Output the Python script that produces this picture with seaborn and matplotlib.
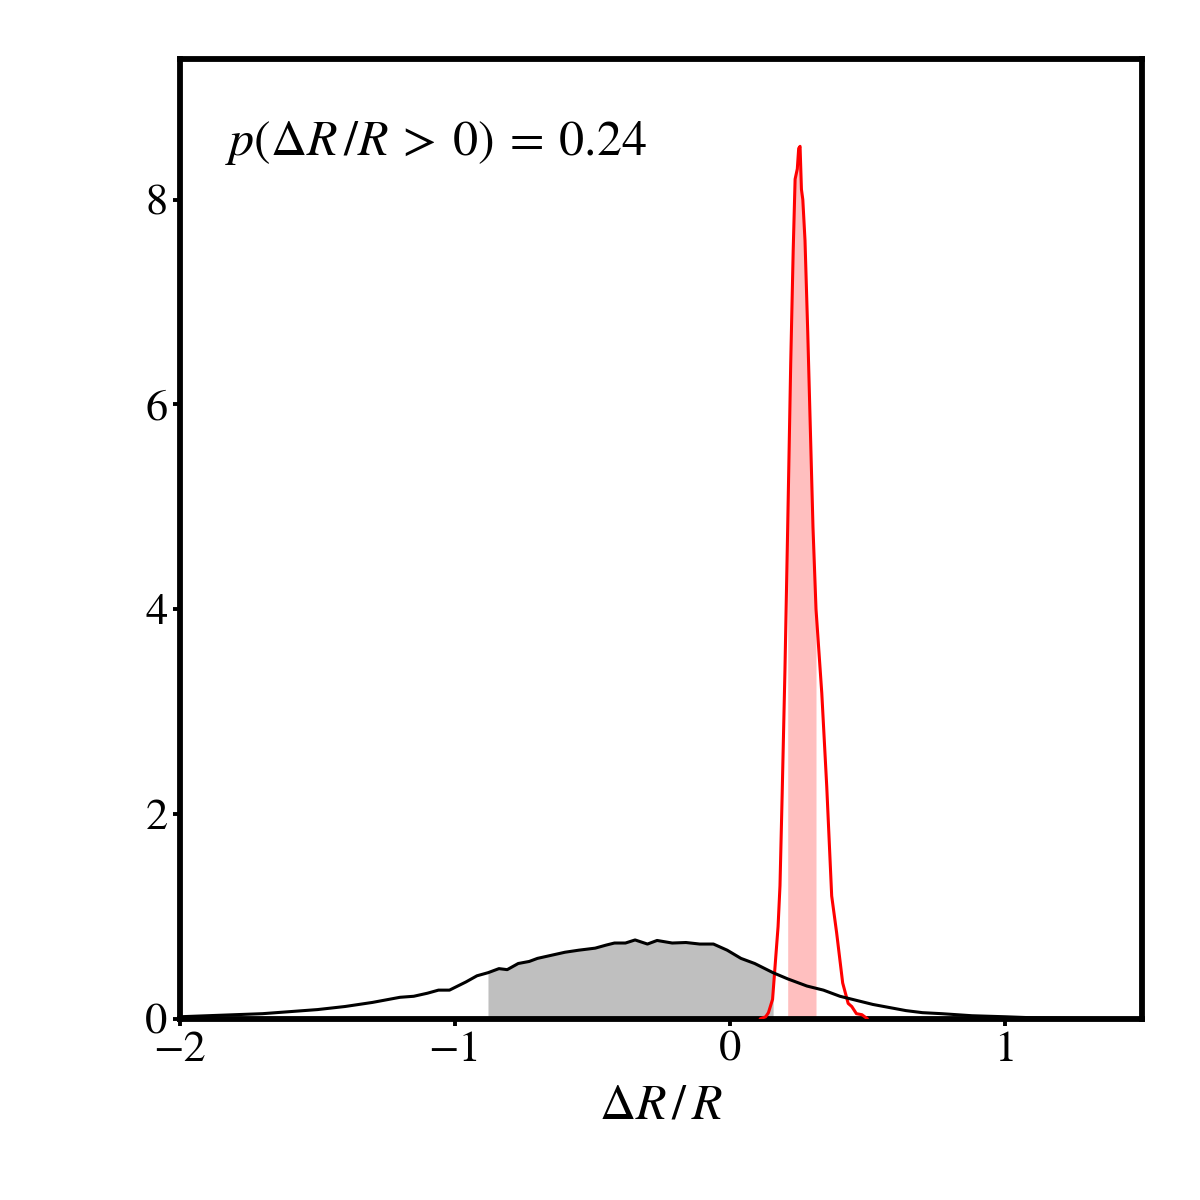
import numpy as np
import pandas as pd
import matplotlib
matplotlib.use("Agg")
import matplotlib.pyplot as plt
import seaborn as sns

# Broad (black) distribution of dR/R
black_x = [-2.00, -1.90, -1.80, -1.70, -1.60, -1.50, -1.40, -1.30, -1.20, -1.15,
           -1.10, -1.06, -1.02, -0.96, -0.92, -0.88, -0.84, -0.81, -0.77, -0.73,
           -0.70, -0.65, -0.60, -0.55, -0.49, -0.45, -0.42, -0.38, -0.345, -0.30,
           -0.265, -0.21, -0.16, -0.11, -0.06, -0.01, 0.04, 0.09, 0.157, 0.21,
           0.28, 0.34, 0.40, 0.46, 0.52, 0.58, 0.64, 0.70, 0.77, 0.88,
           1.00, 1.10, 1.25, 1.50]
black_y = [0.02, 0.03, 0.04, 0.05, 0.07, 0.09, 0.12, 0.16, 0.21, 0.22,
           0.25, 0.28, 0.28, 0.36, 0.42, 0.45, 0.49, 0.48, 0.54, 0.56,
           0.59, 0.62, 0.65, 0.67, 0.69, 0.72, 0.74, 0.74, 0.77, 0.73,
           0.765, 0.74, 0.745, 0.73, 0.73, 0.67, 0.59, 0.54, 0.45, 0.39,
           0.32, 0.28, 0.22, 0.18, 0.14, 0.11, 0.08, 0.06, 0.05, 0.03,
           0.02, 0.01, 0.005, 0.0]

# Narrow (red) distribution
red_x = [0.11, 0.13, 0.14, 0.155, 0.164, 0.175, 0.182, 0.19, 0.20, 0.21,
         0.221, 0.23, 0.237, 0.245, 0.250, 0.255, 0.26, 0.265, 0.273, 0.283,
         0.295, 0.302, 0.313, 0.324, 0.334, 0.352, 0.37, 0.388, 0.41, 0.43,
         0.443, 0.46, 0.48, 0.50]
red_y = [0.0, 0.02, 0.06, 0.19, 0.51, 0.9, 1.3, 2.2, 3.4, 4.8,
         6.4, 7.5, 8.2, 8.3, 8.5, 8.52, 8.1, 8.0, 7.6, 6.7,
         5.5, 4.8, 4.0, 3.57, 3.18, 2.27, 1.2, 0.84, 0.35, 0.15,
         0.12, 0.05, 0.04, 0.0]

black_band = (-0.88, 0.157)
red_band = (0.21, 0.313)

x_ticks = [-2, -1, 0, 1]
y_ticks = [0, 2, 4, 6, 8]
annotation = r"$p(\Delta R\,/R \:>\: 0) \:=\: 0.24$"
x_label = r"$\Delta R\,/\,R$"

sns.set_theme(style="ticks")
plt.rcParams["font.family"] = ["STIXGeneral", "DejaVu Sans"]
plt.rcParams["mathtext.fontset"] = "stix"
plt.rcParams["axes.unicode_minus"] = True
plt.rcParams["text.color"] = "black"
plt.rcParams["axes.labelcolor"] = "black"

fig, ax = plt.subplots(figsize=(6, 6), dpi=200)
fig.subplots_adjust(left=0.15, right=0.952, bottom=0.151, top=0.951)

bdf = pd.DataFrame({"x": black_x, "y": black_y})
rdf = pd.DataFrame({"x": red_x, "y": red_y})

bm = (bdf.x >= black_band[0]) & (bdf.x <= black_band[1])
ax.fill_between(bdf.x[bm], 0, bdf.y[bm], color="black", alpha=0.25, lw=0, zorder=1)
rm = (rdf.x >= red_band[0]) & (rdf.x <= red_band[1])
ax.fill_between(rdf.x[rm], 0, rdf.y[rm], color="red", alpha=0.25, lw=0, zorder=1)

sns.lineplot(data=rdf, x="x", y="y", color="red", lw=1.1, ax=ax, zorder=3)
sns.lineplot(data=bdf, x="x", y="y", color="black", lw=1.1, ax=ax, zorder=4)

ax.set_xlim(-2, 1.5)
ax.set_ylim(0, 9.375)
ax.set_xticks(x_ticks)
ax.set_yticks(y_ticks)
ax.set_xlabel(x_label, fontsize=18, labelpad=5)
ax.set_ylabel("")
for s in ax.spines.values():
    s.set_linewidth(2.1)
    s.set_color("black")
ax.tick_params(axis="both", direction="out", length=2.5, width=1.4,
               labelsize=16, colors="black", pad=2)
ax.text(0.047, 0.912, annotation, transform=ax.transAxes, fontsize=18,
        ha="left", va="center", color="black")

fig.savefig("out.png", dpi=200, facecolor="white")
